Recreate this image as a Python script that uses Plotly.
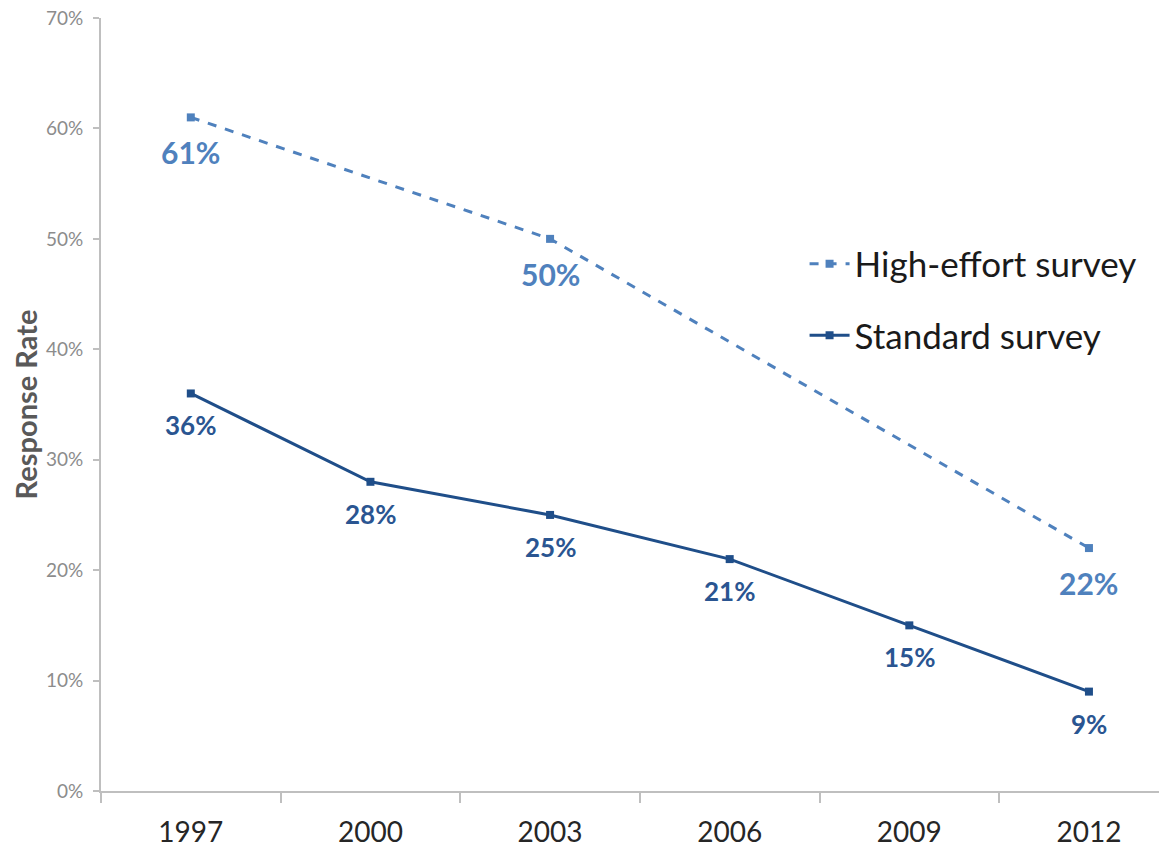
import plotly.graph_objects as go

years = ["1997", "2000", "2003", "2006", "2009", "2012"]
high_effort = [0.61, None, 0.50, None, None, 0.22]
standard = [0.36, 0.28, 0.25, 0.21, 0.15, 0.09]
y_ticks = [0, 0.1, 0.2, 0.3, 0.4, 0.5, 0.6, 0.7]

HIGH_C = "#4F81BD"
STD_C = "#1F4E89"
FONT = "Lato"

xi = list(range(len(years)))
hx = [i for i, v in zip(xi, high_effort) if v is not None]
hy = [v for v in high_effort if v is not None]

fig = go.Figure()
fig.add_trace(go.Scatter(
    x=hx, y=hy, mode="lines+markers", name="High-effort survey",
    line=dict(color=HIGH_C, width=3, dash="dash"),
    marker=dict(symbol="square", size=8, color=HIGH_C),
    legendgroup="a", cliponaxis=False,
))
fig.add_trace(go.Scatter(
    x=xi, y=standard, mode="lines+markers", name="Standard survey",
    line=dict(color=STD_C, width=3),
    marker=dict(symbol="square", size=8, color=STD_C),
    legendgroup="b", cliponaxis=False,
))

annos = []
for x, y in zip(hx, hy):
    annos.append(dict(x=x, y=y, xref="x", yref="y", text=f"{round(y*100)}%",
                      showarrow=False, yshift=-35, yanchor="middle",
                      font=dict(family=FONT, size=30, color=HIGH_C, weight="bold")))
for x, y in zip(xi, standard):
    annos.append(dict(x=x, y=y, xref="x", yref="y", text=f"{round(y*100)}%",
                      showarrow=False, yshift=-32, yanchor="middle",
                      font=dict(family=FONT, size=26, color="#2A5591", weight="bold")))

fig.update_layout(
    width=1159, height=850,
    margin=dict(l=101, r=0, t=18, b=59),
    paper_bgcolor="white", plot_bgcolor="white",
    font=dict(family=FONT),
    showlegend=True,
    legend=dict(x=0.665, y=0.72, xanchor="left", yanchor="top",
                font=dict(family=FONT, size=35, color="#1a1a1a"),
                tracegroupgap=23, traceorder="grouped",
                bgcolor="rgba(0,0,0,0)", itemwidth=40),
    annotations=annos,
    xaxis=dict(
        range=[-0.5, 5.39], tickmode="array", automargin=False,
        tickvals=[i - 0.5 for i in range(len(years))],
        ticktext=["" for _ in years], ticks="outside", ticklen=10,
        tickcolor="#BFBFBF", tickwidth=2,
        showline=True, linecolor="#BFBFBF", linewidth=2,
        showgrid=False, zeroline=False,
    ),
    xaxis2=dict(
        overlaying="x", matches="x", side="bottom", anchor="y", automargin=False,
        range=[-0.5, 5.39], tickmode="array", tickvals=xi, ticktext=years,
        ticks="", showline=False, showgrid=False, zeroline=False,
        tickfont=dict(family=FONT, size=28, color="#262626"),
        ticklabelstandoff=22,
    ),
    yaxis=dict(
        range=[0, 0.7], tickmode="array", tickvals=y_ticks, automargin=False,
        tickformat=".0%", ticks="outside", ticklen=6,
        tickcolor="#BFBFBF", tickwidth=2,
        showline=True, linecolor="#BFBFBF", linewidth=2,
        showgrid=False, zeroline=False,
        tickfont=dict(family=FONT, size=19, color="#8C8C8C"),
        ticklabelstandoff=6,
        title=dict(text="<b>Response Rate</b>", standoff=0,
                   font=dict(family=FONT, size=29, color="#595959")),
    ),
)
fig.add_trace(go.Scatter(x=[0], y=[None], xaxis="x2", showlegend=False, hoverinfo="skip"))

fig.write_html("out.html", config={"displayModeBar": False},
               post_script="document.body.style.margin='0';document.body.style.overflow='hidden';")
